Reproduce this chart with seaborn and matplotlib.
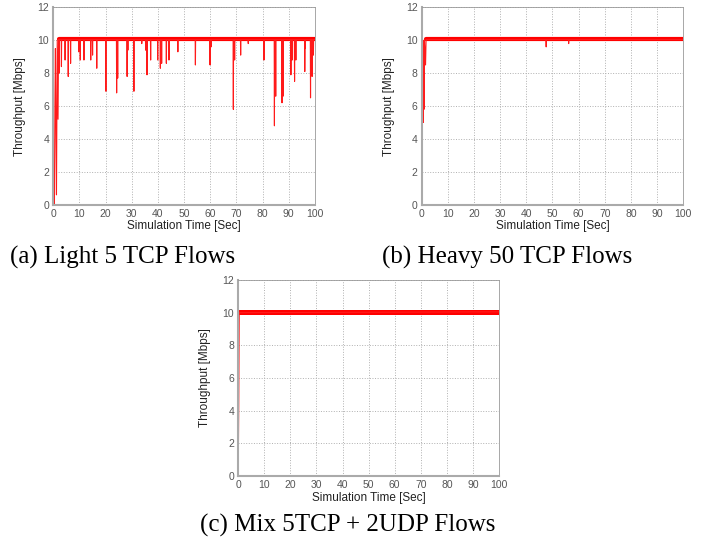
import pandas as pd
import matplotlib.pyplot as plt
import seaborn as sns

sns.set_style('white')
plt.rcParams['font.family'] = ['Liberation Sans', 'DejaVu Sans']

# steady-state level of the throughput trace
base_level = 10.05

# (a) Light 5 TCP flows: start-up samples and the dips away from 10 Mbps
a_start_t = [0.0, 0.2, 0.4, 0.6, 0.8, 1.0, 1.2, 1.5, 1.8, 2.0]
a_start_v = [0.0, 1.4, 0.0, 6.0, 9.5, 4.3, 0.6, 10.0, 5.2, 10.05]
a_dip_t = [2.2, 3.1, 4.5, 5.7, 6.6, 9.7, 10.3, 11.7, 14.3, 15.0, 16.6, 20.1, 24.2, 24.6,
           28.2, 28.5, 30.8, 33.8, 35.3, 35.8, 37.2, 39.9, 40.9, 41.4, 43.2, 44.2, 47.6,
           54.3, 59.9, 60.3, 68.8, 69.3, 71.6, 74.5, 80.5, 84.5, 85.0, 87.4, 87.8, 90.8,
           91.3, 92.2, 92.7, 96.1, 96.3, 98.3, 98.9, 99.4]
a_dip_v = [8.0, 8.4, 8.8, 7.8, 8.6, 9.3, 8.8, 8.8, 8.8, 9.1, 8.3, 6.9, 6.8, 7.7,
           7.8, 9.4, 6.9, 9.8, 9.4, 7.9, 8.8, 8.8, 8.3, 8.6, 8.6, 8.8, 9.3,
           8.5, 8.5, 9.6, 5.8, 8.8, 9.1, 9.8, 8.8, 4.8, 6.6, 6.2, 6.6, 7.9,
           8.8, 7.5, 8.8, 8.1, 9.5, 6.5, 7.8, 9.1]

# (b) Heavy 50 TCP flows
b_start_t = [0.0, 0.2, 0.35, 0.5, 0.6, 0.8, 0.9, 1.1, 1.5, 1.7]
b_start_v = [0.0, 1.4, 9.0, 10.0, 5.0, 10.0, 5.8, 10.0, 8.5, 10.05]
b_dip_t = [47.6, 56.2]
b_dip_v = [9.6, 9.8]

# (c) Mix 5TCP + 2UDP flows
c_start_t = [0.0, 0.2, 0.4]
c_start_v = [0.0, 4.0, 10.0]
c_dip_t = []
c_dip_v = []

captions = ['(a) Light 5 TCP Flows', '(b) Heavy 50 TCP Flows', '(c) Mix 5TCP + 2UDP Flows']


def trace(start_t, start_v, dip_t, dip_v):
    t = list(start_t)
    v = list(start_v)
    for dt, dv in zip(dip_t, dip_v):
        t += [dt - 0.08, dt, dt + 0.08]
        v += [base_level, dv, base_level]
    t.append(100)
    v.append(base_level)
    return pd.DataFrame({'t': t, 'v': v})


fig = plt.figure(figsize=(7.11, 5.42), dpi=100)
axes = [
    fig.add_axes([0.075, 0.6223, 0.368, 0.364]),
    fig.add_axes([0.593, 0.6223, 0.368, 0.364]),
    fig.add_axes([0.335, 0.1218, 0.367, 0.3616]),
]
series = [
    (a_start_t, a_start_v, a_dip_t, a_dip_v, 3.0),
    (b_start_t, b_start_v, b_dip_t, b_dip_v, 3.0),
    (c_start_t, c_start_v, c_dip_t, c_dip_v, 3.6),
]

for ax, (st, sv, dt, dv, band) in zip(axes, series):
    df = trace(st, sv, dt, dv)
    steady = pd.DataFrame({'t': [st[-1], 100], 'v': [base_level, base_level]})
    sns.lineplot(data=steady, x='t', y='v', ax=ax, color='#ff0000', lw=band,
                 estimator=None, sort=False)
    sns.lineplot(data=df, x='t', y='v', ax=ax, color='#ff1a1a', lw=0.8,
                 estimator=None, sort=False)
    ax.set_xlim(0, 100)
    ax.set_ylim(0, 12)
    ax.set_xticks(range(0, 101, 10))
    ax.set_yticks(range(0, 13, 2))
    ax.grid(True, linestyle=':', color='#b0b0b0', linewidth=0.7)
    ax.tick_params(labelsize=7.5, colors='#555555', length=0, pad=3)
    ax.set_xlabel('Simulation Time [Sec]', fontsize=8.5, color='#222222', labelpad=1)
    ax.set_ylabel('Throughput [Mbps]', fontsize=8.5, color='#222222', labelpad=8)
    for side in ['top', 'right']:
        ax.spines[side].set_color('#999999')
        ax.spines[side].set_linewidth(0.6)
    for side in ['left', 'bottom']:
        ax.spines[side].set_color('#aaaaaa')
        ax.spines[side].set_linewidth(1.5)

fig.text(123 / 711, 1 - 257 / 542, captions[0], ha='center', va='center',
         fontsize=18, family='Liberation Serif', color='black')
fig.text(507 / 711, 1 - 257 / 542, captions[1], ha='center', va='center',
         fontsize=18, family='Liberation Serif', color='black')
fig.text(348 / 711, 1 - 525 / 542, captions[2], ha='center', va='center',
         fontsize=18, family='Liberation Serif', color='black')

plt.savefig('out.png', dpi=100)
